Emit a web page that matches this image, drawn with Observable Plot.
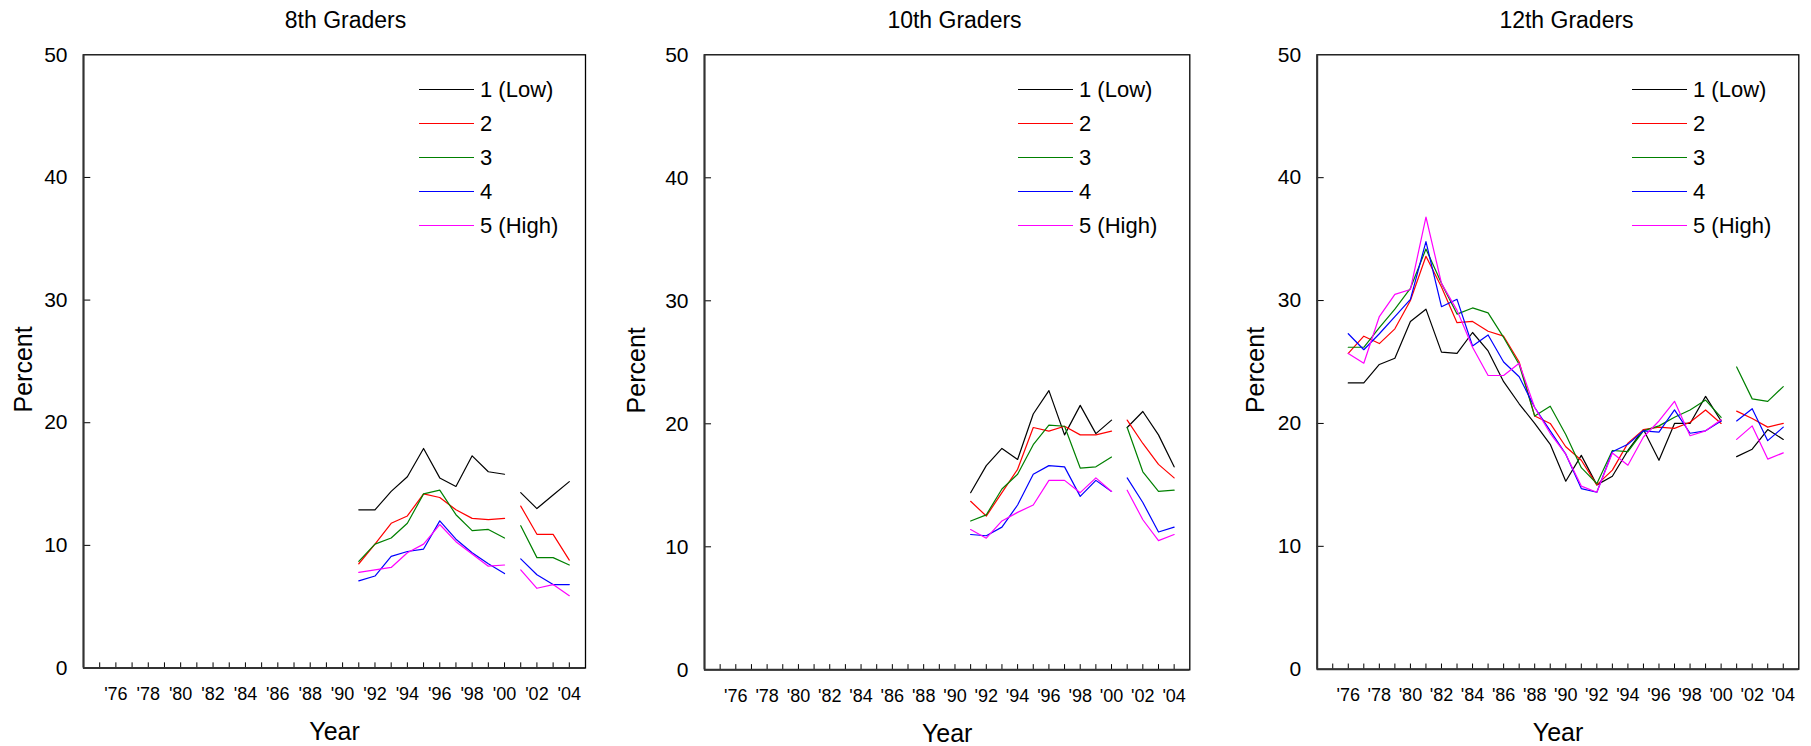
<!DOCTYPE html>
<html>
<head>
<meta charset="utf-8">
<script src="https://cdn.jsdelivr.net/npm/d3@7"></script>
<script src="https://cdn.jsdelivr.net/npm/@observablehq/plot@0.6"></script>
<style>
  body { margin: 0; background: #fff; }
  #wrap { position: relative; width: 1811px; height: 746px; font-family: "Liberation Sans", Arial, sans-serif; color: #000; overflow: hidden; }
  .panel { position: absolute; top: 0; }
  .lg-line { position: absolute; height: 0; }
  .lg-text { position: absolute; font-size: 22px; line-height: 26px; white-space: nowrap; }
</style>
</head>
<body>
<div id="wrap"></div>
<script>
// ---- categories / series ----
const series = ["1 (Low)", "2", "3", "4", "5 (High)"];
const colors = ["#000000", "#ff0000", "#008000", "#0000ff", "#ff00ff"];

// ---- tick labels ----
const xTickYears = d3.range(1975, 2005);          // minor ticks each year
const xLabelYears = d3.range(1976, 2005, 2);      // '76 ... '04
const yTicks = [0, 10, 20, 30, 40, 50];
const yInnerTicks = [10, 20, 30, 40];

// ---- 8th graders, 1991-2004 ----
const years8 = d3.range(1991, 2005);
const g8_1 = [12.9, 12.9, 14.4, 15.6, 17.9, 15.5, 14.8, 17.3, 16.0, 15.8, 14.3, 13.0, 14.1, 15.2];
const g8_2 = [8.5, 10.1, 11.8, 12.4, 14.2, 13.9, 12.9, 12.2, 12.1, 12.2, 13.2, 10.9, 10.9, 8.8];
const g8_3 = [8.7, 10.1, 10.6, 11.8, 14.2, 14.5, 12.5, 11.2, 11.3, 10.6, 11.6, 9.0, 9.0, 8.4];
const g8_4 = [7.1, 7.5, 9.1, 9.5, 9.7, 12.0, 10.5, 9.4, 8.5, 7.7, 8.9, 7.6, 6.8, 6.8];
const g8_5 = [7.8, 8.0, 8.2, 9.4, 10.1, 11.7, 10.3, 9.3, 8.3, 8.4, 8.0, 6.5, 6.8, 5.9];

// ---- 10th graders, 1991-2004 ----
const years10 = d3.range(1991, 2005);
const g10_1 = [14.4, 16.6, 18.0, 17.1, 20.8, 22.7, 19.1, 21.5, 19.2, 20.3, 19.7, 21.0, 19.1, 16.5];
const g10_2 = [13.7, 12.5, 14.4, 16.3, 19.7, 19.4, 19.8, 19.1, 19.1, 19.4, 20.3, 18.4, 16.7, 15.6];
const g10_3 = [12.1, 12.6, 14.7, 15.9, 18.3, 19.9, 19.8, 16.4, 16.5, 17.3, 19.7, 16.1, 14.5, 14.6];
const g10_4 = [11.0, 10.9, 11.6, 13.4, 15.9, 16.6, 16.5, 14.1, 15.4, 14.5, 15.6, 13.6, 11.2, 11.6];
const g10_5 = [11.4, 10.7, 12.1, 12.8, 13.4, 15.4, 15.4, 14.4, 15.6, 14.5, 14.6, 12.2, 10.5, 11.0];

// ---- 12th graders, 1976-2004 ----
const years12 = d3.range(1976, 2005);
const g12_1 = [23.3, 23.3, 24.8, 25.3, 28.3, 29.3, 25.8, 25.7, 27.4, 25.9, 23.4, 21.6, 20.0, 18.3, 15.3, 17.4, 15.0, 15.7, 17.8, 19.5, 17.0, 20.0, 20.0, 22.2, 20.2, 17.3, 17.9, 19.5, 18.7];
const g12_2 = [25.7, 27.1, 26.5, 27.7, 30.0, 33.6, 31.1, 28.2, 28.3, 27.5, 27.1, 25.0, 20.6, 20.0, 18.1, 17.0, 15.0, 16.2, 18.4, 19.5, 19.7, 19.6, 20.1, 21.1, 20.0, 21.0, 20.4, 19.7, 20.0];
const g12_3 = [26.2, 26.2, 27.8, 29.3, 31.0, 34.2, 31.4, 28.9, 29.4, 29.0, 27.0, 24.8, 20.6, 21.4, 19.1, 16.4, 15.1, 17.8, 17.7, 19.4, 19.8, 20.5, 21.1, 21.9, 20.5, 24.6, 22.0, 21.8, 23.0];
const g12_4 = [27.3, 26.0, 27.3, 28.7, 30.1, 34.8, 29.5, 30.1, 26.3, 27.2, 25.0, 23.8, 21.3, 19.4, 17.5, 14.7, 14.4, 17.7, 18.3, 19.4, 19.3, 21.1, 19.2, 19.4, 20.2, 20.2, 21.2, 18.6, 19.7];
const g12_5 = [25.7, 24.9, 28.7, 30.5, 30.9, 36.8, 31.4, 29.2, 26.2, 23.9, 23.9, 24.9, 21.3, 19.2, 17.5, 14.9, 14.4, 17.6, 16.6, 18.9, 20.2, 21.8, 19.0, 19.4, 20.3, 18.7, 19.8, 17.1, 17.6];

function rowsFor(years, arrays) {
  const rows = [];
  arrays.forEach((vals, i) => {
    vals.forEach((v, j) => {
      const yr = years[j];
      rows.push({series: series[i], year: yr, value: v, key: series[i] + (yr <= 2000 ? "|a" : "|b")});
    });
  });
  return rows;
}

const panels = [
  {title: "8th Graders", rows: rowsFor(years8, [g8_1, g8_2, g8_3, g8_4, g8_5]),
   left: 0, width: 620, frameL: 83, frameR: 585, top: 54.3, bottom: 667.5, titleX: 345, percentX: 23, legendX: 480},
  {title: "10th Graders", rows: rowsFor(years10, [g10_1, g10_2, g10_3, g10_4, g10_5]),
   left: 620, width: 600, frameL: 704, frameR: 1189.3, top: 54.3, bottom: 669.3, titleX: 954, percentX: 636, legendX: 1079},
  {title: "12th Graders", rows: rowsFor(years12, [g12_1, g12_2, g12_3, g12_4, g12_5]),
   left: 1220, width: 591, frameL: 1316.7, frameR: 1798.3, top: 54.3, bottom: 668.7, titleX: 1566, percentX: 1255, legendX: 1693}
];

const wrap = document.getElementById("wrap");
const legendRows = [89.7, 123.7, 157.7, 191.7, 225.7];

panels.forEach(p => {
  const mL = p.frameL - p.left;
  const mR = p.left + p.width - p.frameR;
  const frameCenter = (p.frameL + p.frameR) / 2;
  const chart = Plot.plot({
    width: p.width,
    height: 746,
    marginLeft: mL,
    marginRight: mR,
    marginTop: p.top,
    marginBottom: 746 - p.bottom,
    style: {fontFamily: "'Liberation Sans', Arial, sans-serif", background: "#fff", color: "#000"},
    x: {domain: [1974, 2005]},
    y: {domain: [0, 50]},
    color: {domain: series, range: colors},
    marks: [
      Plot.axisY(yTicks, {tickSize: 0, tickPadding: 16, fontSize: 21, label: null}),
      Plot.axisX(xLabelYears, {tickSize: 0, tickPadding: 19, fontSize: 18, label: null,
        tickFormat: d => "'" + String(d).slice(2)}),
      Plot.ruleX(xTickYears, {x: d => d, y1: 0, y2: 0.42, stroke: "#000", strokeWidth: 1}),
      Plot.ruleY(yInnerTicks, {y: d => d, x1: 1974, x2: 1974.45, stroke: "#000", strokeWidth: 1}),
      Plot.line(p.rows, {x: "year", y: "value", z: "key", stroke: "series", strokeWidth: 1.2}),
      Plot.frame({stroke: "#000", strokeWidth: 1.3}),
      Plot.ruleX([1974], {stroke: "#333", strokeWidth: 2}),
      Plot.ruleY([0], {stroke: "#333", strokeWidth: 2}),
      Plot.text([p.title], {text: d => d, frameAnchor: "top", lineAnchor: "middle", textAnchor: "middle",
        dy: -34, dx: p.titleX - frameCenter, fontSize: 23}),
      Plot.text(["Percent"], {text: d => d, frameAnchor: "left", lineAnchor: "middle", textAnchor: "middle",
        dx: p.percentX - p.frameL, dy: 8, rotate: -90, fontSize: 25}),
      Plot.text(["Year"], {text: d => d, frameAnchor: "bottom", lineAnchor: "middle", textAnchor: "middle",
        dy: 64, fontSize: 25})
    ]
  });
  chart.classList.add("panel");
  chart.style.left = p.left + "px";
  wrap.appendChild(chart);

  series.forEach((s, i) => {
    const ln = document.createElement("div");
    ln.className = "lg-line";
    ln.style.left = (p.legendX - 61) + "px";
    ln.style.width = "55px";
    ln.style.top = (legendRows[i] - 0.6) + "px";
    ln.style.borderTop = "1.2px solid " + colors[i];
    wrap.appendChild(ln);
    const tx = document.createElement("div");
    tx.className = "lg-text";
    tx.style.left = p.legendX + "px";
    tx.style.top = (legendRows[i] - 12.7) + "px";
    tx.textContent = s;
    wrap.appendChild(tx);
  });
});
</script>
</body>
</html>
